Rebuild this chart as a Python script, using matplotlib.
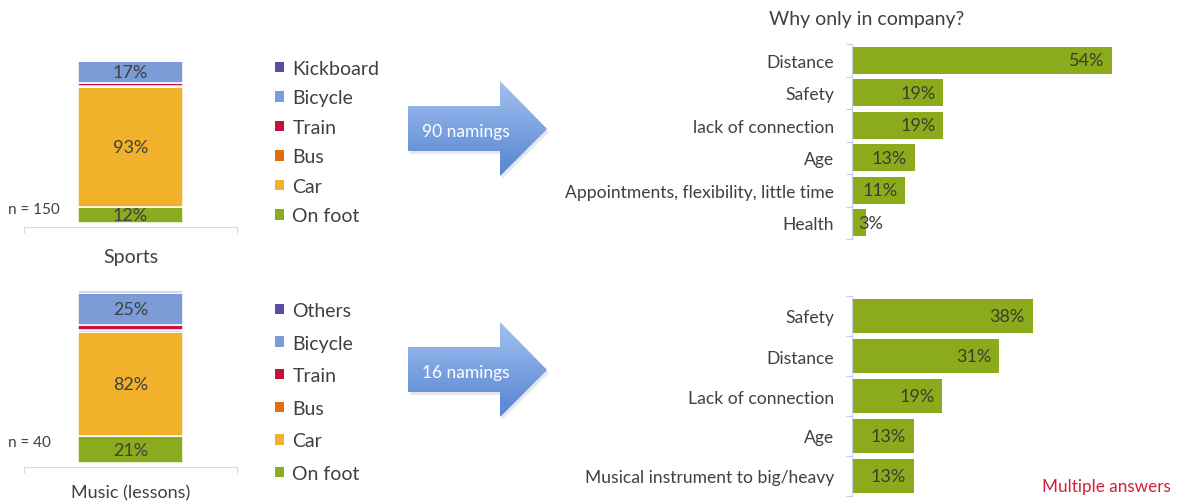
import numpy as np
import matplotlib
matplotlib.use('Agg')
import matplotlib.pyplot as plt
from matplotlib.patches import Patch, Polygon, Rectangle
from matplotlib.colors import LinearSegmentedColormap

plt.rcParams['font.family'] = ['Lato', 'DejaVu Sans']

# Datos
modes_sports = ['On foot', 'Car', 'Bus', 'Train', 'Bicycle', 'Kickboard']
share_sports = [12, 93, 1, 2, 17, 0]
modes_music = ['On foot', 'Car', 'Bus', 'Train', 'Bicycle', 'Others']
share_music = [21, 82, 2, 4, 25, 1.5]
mode_colors = ['#8aab1e', '#f2b12a', '#e46c0a', '#c8103e', '#7b9cd6', '#5a4f9e']

reasons_sports = ['Distance', 'Safety', 'lack of connection', 'Age',
                  'Appointments, flexibility, little time', 'Health']
pct_sports = [54, 19, 19, 13, 11, 3]
reasons_music = ['Safety', 'Distance', 'Lack of connection', 'Age',
                 'Musical instrument to big/heavy']
pct_music = [38, 31, 19, 13, 13]

W, H = 1178, 502
TXT = '#404040'
GREEN = '#8cab1c'


def box(l, t, r, b):
    return [l / W, 1 - b / H, (r - l) / W, (b - t) / H]


fig = plt.figure(figsize=(W / 100, H / 100), dpi=100)

# capa de fondo para las flechas
bg = fig.add_axes([0, 0, 1, 1], zorder=0)
bg.set_xlim(0, W)
bg.set_ylim(H, 0)
bg.axis('off')
cmap = LinearSegmentedColormap.from_list('arr', ['#a2c0ee', '#5584d2'])


def arrow(cy, text):
    x0, xh, xt = 408, 500, 547
    pts = [(x0, cy - 23), (xh, cy - 23), (xh, cy - 48), (xt, cy),
           (xh, cy + 47), (xh, cy + 22), (x0, cy + 22)]
    shadow = Polygon([(x + 2, y + 3) for x, y in pts], closed=True,
                     fc='#e6e8ee', ec='none')
    bg.add_patch(shadow)
    poly = Polygon(pts, closed=True, fc='none', ec='none')
    bg.add_patch(poly)
    # degradado vertical en franjas recortadas
    n = 60
    edges = np.linspace(cy - 48, cy + 47, n + 1)
    for i in range(n):
        r = Rectangle((x0, edges[i]), xt - x0, edges[i + 1] - edges[i] + 0.6,
                      fc=cmap(i / (n - 1)), ec='none')
        bg.add_patch(r)
        r.set_clip_path(poly)
    bg.text(422, cy + 2, text, color='white', fontsize=12.5, ha='left', va='center')


arrow(130, '90 namings')
arrow(371, '16 namings')


def stacked(px, shares, cat, cat_size, cat_pad, n_text, n_y):
    l, t, r, b = px
    ax = fig.add_axes(box(l, t, r, b))
    bottom = 0
    for v, c in zip(shares, mode_colors):
        ax.bar(0, v, bottom=bottom, width=0.49, color=c, edgecolor='white', linewidth=1.1)
        if v >= 10:
            ax.text(0, bottom + v / 2, f'{v}%', ha='center', va='center',
                    fontsize=13, color=TXT)
        bottom += v
    ax.set_xlim(-0.5, 0.5)
    ax.set_ylim(0, sum(shares))
    for s in ['top', 'right', 'left']:
        ax.spines[s].set_visible(False)
    ax.spines['bottom'].set_color('#d9d9d9')
    ax.spines['bottom'].set_position(('outward', 3))
    ax.set_yticks([])
    ax.set_xticks([-0.5, 0.5])
    ax.set_xticklabels([])
    ax.tick_params(axis='x', which='major', length=4, color='#d9d9d9')
    ax.set_xticks([0], minor=True)
    ax.set_xticklabels([cat], minor=True, fontsize=cat_size, color=TXT)
    ax.tick_params(axis='x', which='minor', length=0, pad=cat_pad)
    ax.text((8 - l) / (r - l), (b - n_y) / (b - t), n_text, transform=ax.transAxes,
            ha='left', va='center', fontsize=11, color=TXT)
    ax.patch.set_alpha(0)
    return ax


stacked((24, 62, 237, 224), share_sports, 'Sports', 14, 15, 'n = 150', 210)
stacked((24, 292, 237, 464), share_music, 'Music (lessons)', 13, 12, 'n = 40', 443)


def legend(modes, top, spacing):
    handles = [Patch(fc=c, ec='none') for c in mode_colors][::-1]
    lg = fig.legend(handles, modes[::-1], loc='upper left',
                    bbox_to_anchor=(275 / W, 1 - top / H), frameon=False,
                    fontsize=14, handlelength=0.45, handleheight=0.45,
                    handletextpad=0.45, labelspacing=spacing, borderpad=0,
                    borderaxespad=0)
    for t in lg.get_texts():
        t.set_color(TXT)


legend(modes_sports, 61, 0.64)
legend(modes_music, 303, 0.8)


def reasons(rect, labels, vals, xmax):
    ax = fig.add_axes(rect)
    y = np.arange(len(labels))
    ax.barh(y, vals, height=0.83, color=GREEN)
    for yi, v in zip(y, vals):
        ax.text(max(v - 1.6, 6.4), yi, f'{v}%', ha='right', va='center',
                fontsize=13, color='#3c3c2c')
    ax.set_xlim(0, xmax)
    ax.set_ylim(len(labels) - 0.5, -0.5)
    for s in ['top', 'right', 'bottom']:
        ax.spines[s].set_visible(False)
    ax.spines['left'].set_color('#c9cbe6')
    ax.set_xticks([])
    ax.set_yticks(np.arange(len(labels) + 1) - 0.5)
    ax.set_yticklabels([])
    ax.tick_params(axis='y', which='major', length=4, color='#c9cbe6')
    ax.set_yticks(y, minor=True)
    ax.set_yticklabels(labels, minor=True, fontsize=12.6, color=TXT)
    ax.tick_params(axis='y', which='minor', length=0, pad=13)
    ax.patch.set_alpha(0)
    return ax


reasons(box(852, 45, 1170, 240), reasons_sports, pct_sports, 318 / 4.81)
reasons(box(852, 297, 1170, 497), reasons_music, pct_music, 318 / 4.75)

fig.text(867 / W, 1 - 19 / H, 'Why only in company?', ha='center', va='center',
         fontsize=14, color=TXT)
fig.text(1042 / W, 1 - 487 / H, 'Multiple answers', ha='left', va='center',
         fontsize=12.3, color='#d0203a')

fig.savefig('out.png', dpi=100)
